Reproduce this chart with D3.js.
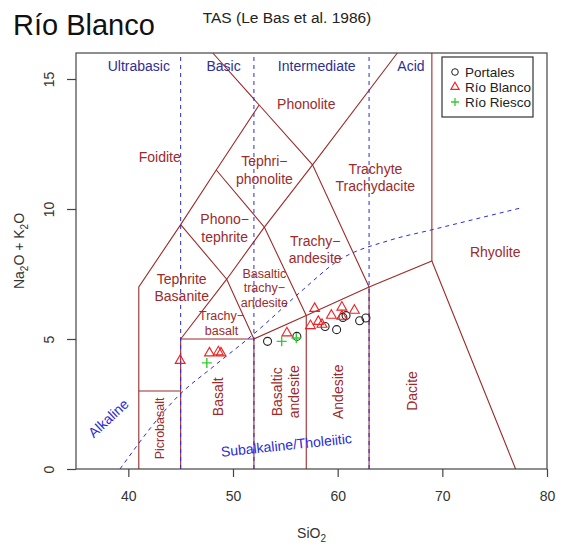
<!DOCTYPE html>
<html>
<head>
<meta charset="utf-8">
<script src="https://cdn.jsdelivr.net/npm/d3@7"></script>
<style>
  body { margin: 0; background: #fff; }
  text { font-family: "Liberation Sans", Arial, sans-serif; }
</style>
</head>
<body>
<div id="drawhere"></div>
<script>
// TAS diagram, Le Bas et al. 1986
const width = 566;
const height = 546;

const xTicks = [40, 50, 60, 70, 80];
const yTicks = [0, 5, 10, 15];

// sample series (SiO2, Na2O+K2O)
const portales = [
  [53.3, 4.91], [56.1, 5.1], [58.8, 5.48], [59.9, 5.36],
  [60.5, 5.83], [60.8, 5.9], [62.1, 5.7], [62.7, 5.81]
];
const rioBlanco = [
  [44.95, 4.17], [47.75, 4.46], [48.6, 4.5], [48.85, 4.46],
  [55.15, 5.23], [57.8, 6.17], [57.4, 5.51], [58.15, 5.67],
  [58.5, 5.56], [59.4, 5.91], [60.4, 6.22], [60.4, 5.87], [61.6, 6.1]
];
const rioRiesco = [[47.5, 4.08], [54.65, 4.91], [56.05, 5.04]];

// field boundaries (solid)
const fieldLines = [
  [[41, 0], [41, 7], [45, 9.4], [48.4, 11.5], [52.5, 14]],
  [[41, 3], [45, 3]],
  [[45, 0], [45, 5], [52, 5], [52, 0]],
  [[45, 9.4], [49.4, 7.3], [52, 5]],
  [[48.4, 11.5], [53, 9.3], [57, 5.9]],
  [[45, 5], [49.4, 7.3], [53, 9.3], [57.6, 11.7], [65.7, 16]],
  [[48.07, 16], [52.5, 14], [57.6, 11.7], [63, 7]],
  [[52, 5], [57, 5.9], [63, 7], [69, 8], [77, 0]],
  [[57, 0], [57, 5.9]],
  [[63, 0], [63, 7]],
  [[69, 8], [69, 16]]
];

// silica divisions (dashed)
const silicaDivs = [45, 52, 63];
const silicaNames = ["Ultrabasic", "Basic", "Intermediate", "Acid"];
const silicaNameX = [41.0, 49.1, 58.0, 67.0];

// Irvine & Baragar alkaline / subalkaline divide
const alkalineCurve = [
  [39.2, 0], [45, 2.9], [48, 3.9], [52, 5.2], [56.7, 6.9],
  [60, 8.0], [65, 8.8], [69, 9.2], [77.6, 10.05]
];

// field names: text lines, x, y, rotation, small
const fieldNames = [
  [["Foidite"], 43.0, 12.0, 0, false],
  [["Phonolite"], 57.0, 14.05, 0, false],
  [["Tephri−", "phonolite"], 53.0, 11.5, 0, false],
  [["Phono−", "tephrite"], 49.2, 9.27, 0, false],
  [["Trachyte", "Trachydacite"], 63.6, 11.2, 0, false],
  [["Trachy−", "andesite"], 57.85, 8.45, 0, false],
  [["Tephrite", "Basanite"], 45.1, 6.98, 0, false],
  [["Basaltic", "trachy−", "andesite"], 53.0, 6.96, 0, true],
  [["Trachy−", "basalt"], 48.9, 5.62, 0, true],
  [["Rhyolite"], 75.05, 8.36, 0, false],
  [["Basalt"], 48.6, 2.78, -90, false],
  [["Picrobasalt"], 43.0, 1.56, -90, true],
  [["Basaltic", "andesite"], 55.0, 2.97, -90, false],
  [["Andesite"], 60.0, 2.97, -90, false],
  [["Dacite"], 67.1, 3.0, -90, false]
];

const seriesNames = ["Portales", "Río Blanco", "Río Riesco"];

const brown = "#9c2b2b";
const navy = "#2e2e96";
const blue = "#2b2bd6";

const x = d3.scaleLinear().domain([35, 80]).range([76, 547]);
const y = d3.scaleLinear().domain([0, 16]).range([469, 53]);

const svg = d3.select("#drawhere").append("svg")
  .attr("width", width)
  .attr("height", height);

const plot = svg.append("g");
const line = d3.line().x(d => x(d[0])).y(d => y(d[1]));

// field boundaries
plot.selectAll("path.field")
  .data(fieldLines)
  .join("path")
  .attr("class", "field")
  .attr("d", line)
  .attr("fill", "none")
  .attr("stroke", brown)
  .attr("stroke-width", 1.1);

// silica dashed lines
plot.selectAll("line.silica")
  .data(silicaDivs)
  .join("line")
  .attr("x1", d => x(d)).attr("x2", d => x(d))
  .attr("y1", y(0)).attr("y2", y(16))
  .attr("stroke", blue)
  .attr("stroke-width", 1)
  .attr("stroke-dasharray", "4,4");

plot.selectAll("text.silica")
  .data(silicaNames)
  .join("text")
  .attr("x", (d, i) => x(silicaNameX[i]))
  .attr("y", y(15.5) + 5)
  .attr("text-anchor", "middle")
  .attr("font-size", 14)
  .attr("fill", navy)
  .text(d => d);

// alkaline curve
plot.append("path")
  .attr("d", d3.line().x(d => x(d[0])).y(d => y(d[1])).curve(d3.curveMonotoneX)(alkalineCurve))
  .attr("fill", "none")
  .attr("stroke", blue)
  .attr("stroke-width", 1)
  .attr("stroke-dasharray", "4,4");

plot.append("text")
  .attr("transform", `translate(${x(38.1)},${y(1.95)}) rotate(-43)`)
  .attr("text-anchor", "middle")
  .attr("dy", "0.35em")
  .attr("font-size", 14)
  .attr("fill", blue)
  .text("Alkaline");

plot.append("text")
  .attr("transform", `translate(${x(55.1)},${y(0.92)}) rotate(-6)`)
  .attr("text-anchor", "middle")
  .attr("dy", "0.35em")
  .attr("font-size", 14)
  .attr("fill", blue)
  .text("Subalkaline/Tholeiitic");

// field names
fieldNames.forEach(function (f) {
  let [lines, fx, fy, rot, small] = f;
  let fs = small ? 12.5 : 14;
  let lh = small ? 14.7 : 17.3;
  let t = plot.append("text")
    .attr("transform", `translate(${x(fx)},${y(fy)}) rotate(${rot})`)
    .attr("text-anchor", "middle")
    .attr("font-size", fs)
    .attr("fill", brown);
  lines.forEach(function (s, i) {
    t.append("tspan")
      .attr("x", 0)
      .attr("y", (i - (lines.length - 1) / 2) * lh)
      .attr("dy", "0.35em")
      .text(s);
  });
});

// points
const tri = d3.symbol().type(d3.symbolTriangle).size(42);
plot.selectAll("circle.portales")
  .data(portales)
  .join("circle")
  .attr("cx", d => x(d[0])).attr("cy", d => y(d[1]))
  .attr("r", 4)
  .attr("fill", "none")
  .attr("stroke", "#222")
  .attr("stroke-width", 1.1);

plot.selectAll("path.blanco")
  .data(rioBlanco)
  .join("path")
  .attr("d", tri)
  .attr("transform", d => `translate(${x(d[0])},${y(d[1])})`)
  .attr("fill", "none")
  .attr("stroke", "#ee2222")
  .attr("stroke-width", 1.1);

plot.selectAll("path.riesco")
  .data(rioRiesco)
  .join("path")
  .attr("d", "M-5,0H5M0,-5V5")
  .attr("transform", d => `translate(${x(d[0])},${y(d[1])})`)
  .attr("stroke", "#33cc33")
  .attr("stroke-width", 1.4);

// box
svg.append("rect")
  .attr("x", x(35)).attr("y", y(16))
  .attr("width", x(80) - x(35)).attr("height", y(0) - y(16))
  .attr("fill", "none")
  .attr("stroke", "#444")
  .attr("stroke-width", 1.2);

// axes
const xAxis = svg.append("g")
  .attr("transform", `translate(0,${y(0)})`)
  .call(d3.axisBottom(x).tickValues(xTicks).tickSize(8).tickPadding(14).tickSizeOuter(0));
xAxis.select(".domain").remove();
xAxis.selectAll("line").attr("stroke", "#444").attr("stroke-width", 1.2);
xAxis.selectAll("text").attr("font-size", 14).attr("fill", "#333")
  .attr("font-family", "Liberation Sans, Arial, sans-serif");

const yAxis = svg.append("g")
  .attr("transform", `translate(${x(35)},0)`)
  .call(d3.axisLeft(y).tickValues(yTicks).tickSize(9).tickFormat(d3.format("d")).tickSizeOuter(0));
yAxis.select(".domain").remove();
yAxis.selectAll("line").attr("stroke", "#444").attr("stroke-width", 1.2);
yAxis.selectAll("text")
  .attr("font-size", 14).attr("fill", "#333")
  .attr("font-family", "Liberation Sans, Arial, sans-serif")
  .attr("x", null).attr("dy", null)
  .attr("text-anchor", "middle")
  .attr("transform", "translate(-22,0) rotate(-90)");

// axis titles
const xt = svg.append("text")
  .attr("x", (x(35) + x(80)) / 2)
  .attr("y", 538)
  .attr("text-anchor", "middle")
  .attr("font-size", 14)
  .attr("fill", "#333");
xt.append("tspan").text("SiO");
xt.append("tspan").attr("font-size", 10).attr("dy", 4).text("2");

const yt = svg.append("text")
  .attr("transform", "translate(24,251) rotate(-90)")
  .attr("text-anchor", "middle")
  .attr("font-size", 14)
  .attr("fill", "#333");
yt.append("tspan").text("Na");
yt.append("tspan").attr("font-size", 10).attr("dy", 4).text("2");
yt.append("tspan").attr("dy", -4).text("O + K");
yt.append("tspan").attr("font-size", 10).attr("dy", 4).text("2");
yt.append("tspan").attr("dy", -4).text("O");

// titles
svg.append("text")
  .attr("x", 13).attr("y", 35)
  .attr("font-size", 29)
  .attr("fill", "#111")
  .text("Río Blanco");

svg.append("text")
  .attr("x", 287).attr("y", 23)
  .attr("text-anchor", "middle")
  .attr("font-size", 15.5)
  .attr("fill", "#222")
  .text("TAS (Le Bas et al. 1986)");

// legend
const legend = svg.append("g").attr("transform", "translate(442,57)");
legend.append("rect")
  .attr("width", 91).attr("height", 60)
  .attr("fill", "#fff")
  .attr("stroke", "#333")
  .attr("stroke-width", 1.2);
const ly = d3.scalePoint().domain(seriesNames).range([15, 45]);
legend.append("circle")
  .attr("cx", 13).attr("cy", ly(seriesNames[0]))
  .attr("r", 3.3).attr("fill", "none").attr("stroke", "#222");
legend.append("path")
  .attr("d", d3.symbol().type(d3.symbolTriangle).size(30))
  .attr("transform", `translate(13,${ly(seriesNames[1])})`)
  .attr("fill", "none").attr("stroke", "#ee2222").attr("stroke-width", 1.1);
legend.append("path")
  .attr("d", "M-4,0H4M0,-4V4")
  .attr("transform", `translate(13,${ly(seriesNames[2])})`)
  .attr("stroke", "#33cc33").attr("stroke-width", 1.3);
legend.selectAll("text")
  .data(seriesNames)
  .join("text")
  .attr("x", 23)
  .attr("y", d => ly(d))
  .attr("dy", "0.35em")
  .attr("font-size", 13.5)
  .attr("fill", "#222")
  .text(d => d);
</script>
</body>
</html>
